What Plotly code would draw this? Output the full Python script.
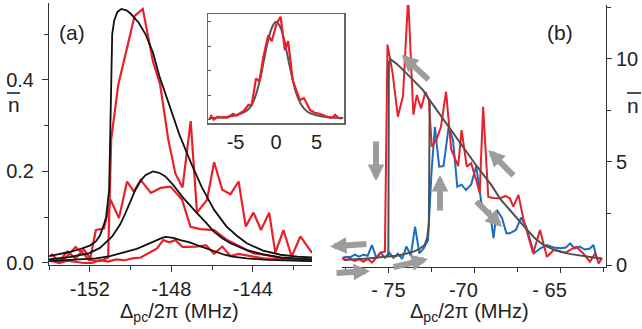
import plotly.graph_objects as go

W, H = 642, 329

# ---------------- Panel (a) data ----------------
fit_hi_x = [-154.0, -153.5, -153.0, -152.5, -152.0, -151.7, -151.5, -151.3, -151.2, -151.05, -150.98, -150.94, -150.9,
            -150.8, -150.65, -150.45, -150.2, -150.0, -149.6, -149.27, -148.9, -148.6, -148.1, -147.6, -147.0, -146.5,
            -145.9, -145.3, -144.8, -144.3, -143.5, -142.65, -141.8, -141.1]
fit_hi_y = [0.015, 0.019, 0.024, 0.03, 0.038, 0.047, 0.06, 0.085, 0.10, 0.16, 0.30, 0.45, 0.50,
            0.53, 0.548, 0.555, 0.552, 0.545, 0.525, 0.50, 0.46, 0.41, 0.345, 0.28, 0.215, 0.165,
            0.116, 0.08, 0.06, 0.043, 0.027, 0.018, 0.014, 0.012]

fit_mid_x = [-154.0, -153.0, -152.05, -151.5, -150.9, -150.5, -150.25, -150.0, -149.76, -149.5, -149.27, -148.91,
             -148.6, -148.29, -147.9, -147.47, -147.1, -146.74, -146.3, -145.9, -145.5, -145.1, -144.3, -143.5,
             -142.65, -141.8, -141.1]
fit_mid_y = [0.008, 0.013, 0.021, 0.033, 0.058, 0.085, 0.109, 0.135, 0.16, 0.18, 0.192, 0.2,
             0.197, 0.189, 0.17, 0.145, 0.126, 0.109, 0.088, 0.068, 0.054, 0.043, 0.028, 0.019,
             0.012, 0.009, 0.008]

fit_lo_x = [-154.0, -153.0, -151.7, -151.0, -150.1, -149.7, -149.27, -148.85, -148.45, -148.29, -147.9, -147.55,
            -147.1, -146.74, -146.3, -145.9, -145.4, -145.0, -144.3, -143.3, -142.3, -141.1]
fit_lo_y = [0.004, 0.006, 0.01, 0.015, 0.025, 0.031, 0.039, 0.048, 0.055, 0.057, 0.055, 0.05,
            0.045, 0.039, 0.032, 0.025, 0.018, 0.014, 0.01, 0.007, 0.005, 0.004]

red_hi_x = [-153.9, -153.5, -153.1, -152.7, -152.3, -151.9, -151.5, -151.1, -150.95, -150.6, -150.2, -149.8,
            -149.4, -148.9, -148.55, -148.15, -147.8, -147.45, -147.05, -146.74, -146.25, -145.9, -145.5, -145.1,
            -144.7, -144.35, -143.97, -143.6, -143.2, -142.9, -142.5, -142.1, -141.67, -141.1]
red_hi_y = [0.02, 0.004, 0.025, 0.01, 0.03, 0.006, 0.004, 0.012, 0.27, 0.39, 0.465, 0.54,
            0.555, 0.44, 0.39, 0.27, 0.195, 0.165, 0.31, 0.11, 0.138, 0.22, 0.16, 0.15,
            0.178, 0.08, 0.11, 0.072, 0.11, 0.022, 0.072, 0.014, 0.058, 0.022]

red_mid_x = [-153.9, -153.5, -153.1, -152.7, -152.3, -152.0, -151.7, -151.3, -150.98, -150.57, -150.17, -149.84,
             -149.5, -149.0, -148.53, -148.04, -147.47, -147.06, -146.57, -145.9, -145.26, -144.6, -143.96,
             -143.3, -142.5, -141.8, -141.1]
red_mid_y = [0.01, 0.0, 0.015, 0.035, 0.02, 0.005, 0.072, 0.075, 0.138, 0.098, 0.178, 0.156,
             0.181, 0.153, 0.164, 0.167, 0.138, 0.079, 0.074, 0.072, 0.05, 0.036, 0.021,
             0.017, 0.01, 0.008, 0.007]

red_lo_x = [-153.9, -153.5, -153.1, -152.7, -152.3, -151.9, -151.5, -151.1, -150.7, -150.3, -149.9, -149.5,
            -149.1, -148.7, -148.4, -148.1, -147.8, -147.45, -147.1, -146.7, -146.3, -145.9, -145.5, -145.1,
            -144.7, -144.3, -143.5, -142.7, -141.9, -141.1]
red_lo_y = [0.005, 0.0, 0.005, 0.003, 0.0, 0.0, 0.006, 0.003, 0.008, 0.006, 0.01, 0.012,
            0.022, 0.032, 0.05, 0.045, 0.05, 0.035, 0.035, 0.036, 0.039, 0.02, 0.036, 0.015,
            0.02, 0.017, 0.01, 0.008, 0.006, 0.005]

# inset
inset_fit_x = [-8.3, -7, -6, -5, -4, -3.5, -3, -2.5, -2, -1.5, -1, -0.5, 0, 0.5, 1, 1.5, 2, 2.5, 3, 3.5, 4, 5, 6, 7, 8.3]
inset_fit_y = [0.016, 0.022, 0.03, 0.045, 0.075, 0.10, 0.15, 0.25, 0.40, 0.60, 0.80, 0.94, 1.0, 0.95, 0.82, 0.62,
               0.43, 0.27, 0.17, 0.11, 0.075, 0.045, 0.03, 0.022, 0.016]
inset_dat_x = [-8.1, -7.7, -7.2, -6.6, -6.0, -5.3, -4.9, -4.4, -4.0, -3.4, -3.0, -2.47, -2.06, -1.56, -0.95, -0.53,
               0.08, 0.57, 1.1, 1.5, 2.05, 2.5, 2.96, 3.45, 4.2, 4.8, 5.4, 6.0, 6.6, 7.0, 7.3, 7.7, 8.1]
inset_dat_y = [0.05, 0.0, 0.03, 0.02, 0.02, 0.06, 0.04, 0.07, 0.09, 0.15, 0.15, 0.42, 0.39, 0.64, 0.86, 0.8,
               0.98, 1.05, 0.71, 0.8, 0.41, 0.3, 0.2, 0.22, 0.1, 0.07, 0.06, 0.04, 0.02, 0.02, 0.05, 0.02, 0.01]

# ---------------- Panel (b) data ----------------
red_b_x = [-77.7, -77.45, -77.2, -76.95, -76.7, -76.45, -76.2, -75.95, -75.7, -75.45, -75.2, -75.05, -74.75, -74.45,
           -74.15, -73.85, -73.55, -73.35, -73.1, -72.85, -72.65, -72.48, -72.2, -71.95, -71.65, -71.35, -70.95,
           -70.75, -70.45, -70.2, -69.9, -69.7, -69.5, -69.2, -68.9, -68.5, -68.2, -67.95, -67.75, -67.45, -67.15,
           -66.8, -66.6, -66.2, -65.8, -65.4, -65.0, -64.7, -64.45, -64.1, -63.7, -63.3, -63.0, -62.8, -62.6]
red_b_y = [0.33, 0.25, 0.3, 0.2, 0.28, 0.15, 0.3, 0.12, 0.35, 0.6, 0.65, 10.7, 9.3, 7.2,
           8.2, 13.0, 7.3, 8.25, 7.6, 8.4, 8.0, 5.74, 6.1, 6.7, 8.41, 5.6, 4.8,
           6.55, 4.77, 4.94, 4.13, 3.5, 7.68, 3.3, 3.25, 3.24, 3.35, 3.24, 2.83, 3.4, 2.18,
           1.21, 0.57, 1.7, 0.4, 0.73, 0.65, 0.6, 0.73, 0.89, 0.57, 0.16, 0.57, 0.08, 0.33]

blue_b_x = [-77.7, -77.45, -77.2, -76.95, -76.7, -76.45, -76.2, -75.95, -75.7, -75.45, -75.2, -74.95, -74.7, -74.45,
            -74.2, -73.95, -73.7, -73.45, -73.2, -72.95, -72.7, -72.5, -72.3, -72.05, -71.8, -71.5, -71.25, -71.0,
            -70.75, -70.5, -70.2, -69.9, -69.6, -69.3, -69.1, -68.9, -68.7, -68.4, -68.15, -67.95, -67.6, -67.3,
            -67.0, -66.7, -66.55, -66.2, -65.8, -65.4, -65.0, -64.7, -64.45, -64.2, -63.9, -63.6, -63.3, -63.1,
            -62.9, -62.6]
blue_b_y = [0.33, 0.4, 0.38, 0.5, 0.4, 0.5, 0.45, 0.97, 0.35, 0.6, 0.35, 0.6, 0.35, 0.55,
            0.3, 0.9, 0.45, 1.86, 0.57, 0.8, 1.2, 4.45, 6.7, 4.77, 4.8, 6.7, 6.07, 3.8,
            3.9, 3.64, 3.9, 4.8, 3.0, 2.5, 2.6, 1.3, 2.67, 2.27, 1.54, 1.54, 1.7, 2.3,
            1.86, 1.0, 0.57, 0.8, 0.97, 0.85, 0.81, 0.85, 1.05, 0.8, 0.89, 0.75, 0.8, 0.97,
            0.33, 0.3]

model_lo_x = [-77.6, -77.0, -76.2, -75.5, -75.0, -74.5, -74.0, -73.5, -73.2, -72.9, -72.75, -72.65, -72.6]
model_lo_y = [0.24, 0.26, 0.32, 0.37, 0.40, 0.45, 0.55, 0.66, 0.78, 0.97, 1.3, 2.0, 7.95]

model_hi_x = [-75.0, -74.97, -74.9, -74.5, -74.0, -73.5, -73.0, -72.6, -72.0, -71.5, -71.0, -70.5, -70.0, -69.5,
              -69.0, -68.5, -68.0, -67.5, -67.0, -66.5, -66.0, -65.5, -65.0, -64.5, -64.0, -63.5, -63.0, -62.6]
model_hi_y = [0.40, 9.8, 10.0, 9.75, 9.35, 8.95, 8.5, 8.0, 7.3, 6.7, 6.1, 5.5, 4.95, 4.4,
              3.85, 3.2, 2.7, 2.25, 1.75, 1.3, 0.97, 0.78, 0.64, 0.54, 0.47, 0.4, 0.35, 0.32]

# tick labels
a_xticks = [-152, -148, -144]
a_yticks = [0, 0.2, 0.4]
a_ylabels = ["0.0", "0.2", "0.4"]
b_xticks = [-75, -70, -65]
NB = "\u00a0"
b_xlabels = ["- 75", "-70" + NB * 4, "- 65" + NB * 4]
b_yticks = [0, 5, 10]
inset_xticks = [-5, 0, 5]

RED = "#e8202a"
BLUE = "#1a6ebd"
FONT = "Liberation Sans, Arial, sans-serif"
TXT = "#222222"

fig = go.Figure()

# panel (a)
for xs, ys in [(red_hi_x, red_hi_y), (red_mid_x, red_mid_y), (red_lo_x, red_lo_y)]:
    fig.add_trace(go.Scatter(x=xs, y=ys, mode="lines", line=dict(color=RED, width=2.2),
                             xaxis="x", yaxis="y", showlegend=False, hoverinfo="skip"))
for xs, ys in [(fit_hi_x, fit_hi_y), (fit_mid_x, fit_mid_y), (fit_lo_x, fit_lo_y)]:
    fig.add_trace(go.Scatter(x=xs, y=ys, mode="lines", line=dict(color="#111111", width=1.8),
                             xaxis="x", yaxis="y", showlegend=False, hoverinfo="skip"))

# inset
fig.add_trace(go.Scatter(x=inset_fit_x, y=inset_fit_y, mode="lines", line=dict(color="#555555", width=2, shape="spline"),
                         xaxis="x3", yaxis="y3", showlegend=False, hoverinfo="skip"))
fig.add_trace(go.Scatter(x=inset_dat_x, y=inset_dat_y, mode="lines", line=dict(color=RED, width=2.2),
                         xaxis="x3", yaxis="y3", showlegend=False, hoverinfo="skip"))

# panel (b)
fig.add_trace(go.Scatter(x=blue_b_x, y=blue_b_y, mode="lines", line=dict(color=BLUE, width=2),
                         xaxis="x2", yaxis="y2", showlegend=False, hoverinfo="skip"))
fig.add_trace(go.Scatter(x=red_b_x, y=red_b_y, mode="lines", line=dict(color=RED, width=2),
                         xaxis="x2", yaxis="y2", showlegend=False, hoverinfo="skip"))
for xs, ys in [(model_lo_x, model_lo_y), (model_hi_x, model_hi_y)]:
    fig.add_trace(go.Scatter(x=xs, y=ys, mode="lines", line=dict(color="#505050", width=2),
                             xaxis="x2", yaxis="y2", showlegend=False, hoverinfo="skip"))

def px(x):
    return x / W

def py(y):
    return 1 - y / H

tickfont = dict(family=FONT, size=20, color=TXT)
axcommon = dict(showgrid=False, zeroline=False, showline=True, linecolor="#333333", linewidth=1,
                ticks="outside", tickcolor="#333333", tickwidth=1, tickfont=tickfont, automargin=False)

fig.update_layout(
    width=W, height=H, margin=dict(l=0, r=0, t=0, b=0, autoexpand=False), autosize=False,
    paper_bgcolor="white", plot_bgcolor="rgba(0,0,0,0)",
    font=dict(family=FONT, color=TXT),
    xaxis=dict(domain=[px(49), px(312)], range=[-154.0, -141.1], anchor="y",
               tickvals=a_xticks, ticktext=[str(v) for v in a_xticks], ticklen=6,
               minor=dict(tickvals=[-154, -150, -146, -142], ticklen=4, ticks="outside", tickcolor="#333333"),
               **axcommon),
    yaxis=dict(domain=[py(265), py(3)], range=[-0.0044, 0.568], anchor="x",
               tickvals=a_yticks, ticktext=a_ylabels, ticklen=6, ticklabelstandoff=4,
               minor=dict(tickvals=[0.1, 0.3, 0.5], ticklen=4, ticks="outside", tickcolor="#333333"),
               **axcommon),
    xaxis2=dict(domain=[px(342), px(606)], range=[-77.69, -62.37], anchor="y2",
                tickvals=b_xticks, ticktext=b_xlabels, ticklen=5,
                minor=dict(tickvals=[-77.5, -72.5, -67.5, -62.5], ticklen=4, ticks="outside", tickcolor="#333333"),
                **axcommon),
    yaxis2=dict(domain=[py(266.5), py(5)], range=[-0.073, 12.62], anchor="x2", side="right",
                tickvals=b_yticks, ticktext=[str(v) for v in b_yticks], ticklen=5,
                minor=dict(tickvals=[2.5, 7.5, 12.5], ticklen=4, ticks="outside", tickcolor="#333333"),
                **axcommon),
    xaxis3=dict(domain=[px(208), px(344)], range=[-8.4, 8.4], anchor="y3", automargin=False,
                showgrid=False, zeroline=False, showline=True, mirror=True, linecolor="#666666", linewidth=1.5,
                ticks="", tickvals=inset_xticks, ticktext=[str(v) for v in inset_xticks], tickfont=tickfont),
    yaxis3=dict(domain=[py(123), py(14)], range=[-0.034, 1.078], anchor="x3", automargin=False,
                showgrid=False, zeroline=False, showline=True, mirror=True, linecolor="#666666", linewidth=1.5,
                ticks="inside", ticklen=3, tickcolor="#555555", tickvals=[0, 0.25, 0.5, 0.75, 1.0],
                showticklabels=False),
)

annotations = [
    dict(text="(a)", x=px(72), y=py(32), xref="paper", yref="paper", showarrow=False,
         font=dict(family=FONT, size=21, color=TXT), xanchor="center", yanchor="middle"),
    dict(text="(b)", x=px(560), y=py(32), xref="paper", yref="paper", showarrow=False,
         font=dict(family=FONT, size=21, color=TXT), xanchor="center", yanchor="middle"),
    dict(text="n", x=px(13.5), y=py(104), xref="paper", yref="paper", showarrow=False,
         font=dict(family=FONT, size=21, color=TXT), xanchor="center", yanchor="middle"),
    dict(text="n", x=px(633), y=py(105), xref="paper", yref="paper", showarrow=False,
         font=dict(family=FONT, size=21, color=TXT), xanchor="center", yanchor="middle"),
    dict(text="Δ<sub>pc</sub>/2π (MHz)", x=px(180), y=py(312), xref="paper", yref="paper", showarrow=False,
         font=dict(family=FONT, size=20, color=TXT), xanchor="center", yanchor="middle"),
    dict(text="Δ<sub>pc</sub>/2π (MHz)", x=px(469), y=py(312), xref="paper", yref="paper", showarrow=False,
         font=dict(family=FONT, size=20, color=TXT), xanchor="center", yanchor="middle"),
]

# hysteresis arrows (head px, tail px) in picture pixels
arrows = [((330, 246.5), (368, 244)), ((370, 271), (335, 273)), ((428, 259), (392, 267.5)),
          ((376, 181), (376, 140)), ((440, 175), (440, 212)), ((401.7, 55), (430, 81)),
          ((488.3, 150), (515, 177)), ((502, 227), (475, 200))]
for (hx, hy), (tx, ty) in arrows:
    annotations.append(dict(text="", x=px(hx), y=py(hy), xref="paper", yref="paper", showarrow=True,
                            ax=tx - hx, ay=ty - hy, arrowhead=2, arrowsize=0.55, arrowwidth=6,
                            arrowcolor="#9c9c9c", standoff=0))
fig.update_layout(annotations=annotations)

fig.update_layout(shapes=[
    dict(type="line", xref="paper", yref="paper", x0=px(7), x1=px(20), y0=py(93), y1=py(93),
         line=dict(color=TXT, width=1.6)),
    dict(type="line", xref="paper", yref="paper", x0=px(627), x1=px(641), y0=py(93), y1=py(93),
         line=dict(color=TXT, width=1.6)),
])

fig.write_html("out.html", config={"displayModeBar": False, "staticPlot": True},
               post_script="document.body.style.margin='0';document.body.style.padding='0';")
